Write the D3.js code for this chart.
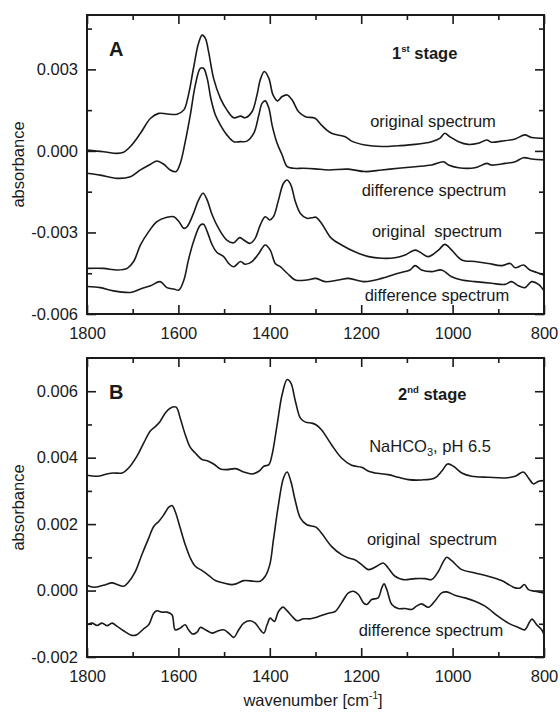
<!DOCTYPE html>
<html>
<head>
<meta charset="utf-8">
<script src="https://cdn.jsdelivr.net/npm/d3@7"></script>
<style>
  body { margin: 0; background: #fff; }
  svg text { font-family: "Liberation Sans", Arial, sans-serif; fill: #1a1a1a; }
</style>
</head>
<body>
<div id="chart"></div>
<script>
// tick values
const wavenumberTicks = [1800, 1600, 1400, 1200, 1000, 800];
const wavenumberMinor = [1700, 1500, 1300, 1100, 900];
const panelATicks = [-6, -3, 0, 3];          // x 1e-3
const panelAMinor = [-4.5, -1.5, 1.5, 4.5];
const panelBTicks = [-2, 0, 2, 4, 6];
const panelBMinor = [-1, 1, 3, 5];

// spectra: [wavenumber cm-1, absorbance x 1e-3]
const stage1Original = [
  [1800, 0.03], [1764, -0.03], [1734, -0.09], [1720, -0.05], [1705, 0.16], [1683, 0.65],
  [1661, 1.20], [1643, 1.38], [1625, 1.36], [1603, 1.35], [1588, 1.51], [1578, 2.06],
  [1567, 3.04], [1556, 3.96], [1548, 4.26], [1541, 4.14], [1534, 3.65], [1523, 2.67],
  [1508, 1.93], [1494, 1.51], [1479, 1.22], [1464, 1.28], [1454, 1.22], [1439, 1.44],
  [1428, 2.06], [1421, 2.61], [1412, 2.92], [1402, 2.67], [1393, 2.06], [1383, 1.84],
  [1373, 2.00], [1362, 2.06], [1351, 1.87], [1337, 1.44], [1322, 1.26], [1301, 1.20],
  [1287, 0.95], [1265, 0.65], [1235, 0.52], [1221, 0.36], [1192, 0.22], [1155, 0.16],
  [1119, 0.19], [1082, 0.24], [1046, 0.34], [1028, 0.46], [1017, 0.65], [1006, 0.52],
  [987, 0.34], [966, 0.24], [944, 0.28], [925, 0.40], [915, 0.32], [893, 0.36],
  [863, 0.44], [842, 0.59], [827, 0.49], [800, 0.46]
];
const stage1Difference = [
  [1800, -0.82], [1771, -0.89], [1734, -1.01], [1705, -0.95], [1683, -0.70], [1661, -0.49],
  [1647, -0.37], [1632, -0.49], [1618, -0.70], [1605, -0.76], [1596, -0.46], [1585, 0.34],
  [1574, 1.32], [1563, 2.42], [1552, 3.04], [1545, 3.04], [1537, 2.67], [1529, 1.93],
  [1519, 1.32], [1508, 0.95], [1494, 0.59], [1479, 0.34], [1464, 0.34], [1450, 0.36],
  [1435, 0.65], [1424, 1.32], [1417, 1.75], [1410, 1.84], [1402, 1.57], [1395, 0.95],
  [1384, 0.28], [1373, -0.15], [1362, -0.58], [1348, -0.64], [1326, -0.64], [1301, -0.66],
  [1272, -0.70], [1228, -0.67], [1192, -0.76], [1155, -0.70], [1119, -0.64], [1082, -0.58],
  [1046, -0.52], [1020, -0.40], [1009, -0.52], [987, -0.62], [951, -0.62], [925, -0.46],
  [915, -0.52], [885, -0.46], [863, -0.40], [845, -0.25], [827, -0.30], [800, -0.33]
];
const stage1Original2 = [
  [1800, -4.32], [1764, -4.32], [1734, -4.38], [1712, -4.32], [1698, -4.07], [1683, -3.46],
  [1665, -2.97], [1647, -2.60], [1625, -2.44], [1610, -2.42], [1599, -2.60], [1588, -2.85],
  [1581, -2.79], [1567, -2.30], [1556, -1.81], [1546, -1.56], [1537, -1.81], [1526, -2.36],
  [1512, -2.85], [1494, -3.28], [1479, -3.38], [1466, -3.19], [1457, -3.28], [1443, -3.40],
  [1432, -3.22], [1421, -2.73], [1410, -2.42], [1400, -2.54], [1392, -2.42], [1381, -1.81],
  [1370, -1.19], [1362, -1.07], [1354, -1.25], [1344, -1.87], [1333, -2.30], [1319, -2.48],
  [1308, -2.46], [1299, -2.44], [1287, -2.66], [1265, -3.22], [1243, -3.46], [1214, -3.71],
  [1184, -3.89], [1155, -3.95], [1126, -3.93], [1104, -3.83], [1082, -3.65], [1071, -3.73],
  [1053, -3.89], [1031, -3.65], [1017, -3.44], [1002, -3.65], [980, -4.01], [951, -4.07],
  [922, -4.14], [893, -4.22], [874, -4.14], [863, -4.30], [845, -4.20], [831, -4.38],
  [816, -4.47], [800, -4.57]
];
const stage1Difference2 = [
  [1800, -4.99], [1771, -5.03], [1742, -5.15], [1702, -5.20], [1683, -5.08], [1661, -4.96],
  [1640, -4.81], [1625, -5.03], [1610, -5.08], [1599, -5.12], [1588, -4.75], [1578, -4.01],
  [1567, -3.34], [1552, -2.73], [1545, -2.70], [1537, -2.97], [1526, -3.46], [1516, -3.73],
  [1501, -3.89], [1490, -4.14], [1479, -4.26], [1464, -4.07], [1454, -4.17], [1439, -4.07],
  [1424, -3.77], [1410, -3.46], [1399, -3.65], [1388, -4.14], [1377, -4.26], [1362, -4.50],
  [1344, -4.75], [1319, -4.75], [1299, -4.69], [1279, -4.81], [1250, -4.75], [1228, -4.69],
  [1192, -4.81], [1155, -4.69], [1119, -4.50], [1093, -4.38], [1082, -4.22], [1068, -4.38],
  [1046, -4.44], [1024, -4.38], [1002, -4.63], [980, -4.75], [951, -4.81], [915, -4.87],
  [885, -4.91], [871, -4.81], [856, -4.96], [842, -5.03], [827, -4.81], [812, -4.91],
  [800, -5.15]
];
const stage2Bicarbonate = [
  [1800, 3.47], [1778, 3.44], [1756, 3.51], [1742, 3.54], [1723, 3.54], [1709, 3.69],
  [1691, 4.04], [1676, 4.44], [1661, 4.81], [1650, 4.94], [1640, 5.09], [1629, 5.34],
  [1618, 5.49], [1605, 5.52], [1596, 5.19], [1585, 4.69], [1574, 4.31], [1563, 4.14],
  [1548, 3.94], [1537, 3.91], [1523, 3.81], [1508, 3.66], [1494, 3.64], [1475, 3.67],
  [1457, 3.57], [1439, 3.51], [1424, 3.59], [1413, 3.74], [1402, 3.79], [1395, 4.09],
  [1384, 4.99], [1373, 5.90], [1362, 6.35], [1354, 6.25], [1344, 5.70], [1333, 5.19],
  [1322, 5.07], [1308, 5.04], [1299, 4.99], [1287, 4.84], [1265, 4.39], [1243, 3.99],
  [1221, 3.77], [1199, 3.71], [1184, 3.59], [1170, 3.54], [1141, 3.49], [1119, 3.41],
  [1097, 3.34], [1068, 3.33], [1039, 3.39], [1024, 3.59], [1011, 3.81], [998, 3.74],
  [980, 3.54], [958, 3.44], [922, 3.41], [885, 3.39], [863, 3.44], [845, 3.57],
  [834, 3.39], [823, 3.21], [812, 3.29], [800, 3.31]
];
const stage2Original = [
  [1800, 0.16], [1785, 0.10], [1764, 0.16], [1745, 0.23], [1734, 0.18], [1720, 0.13],
  [1709, 0.26], [1694, 0.58], [1680, 1.08], [1665, 1.58], [1654, 1.93], [1643, 2.08],
  [1632, 2.28], [1621, 2.51], [1614, 2.56], [1607, 2.38], [1596, 1.88], [1585, 1.38],
  [1574, 0.98], [1563, 0.73], [1548, 0.60], [1534, 0.46], [1519, 0.30], [1501, 0.23],
  [1483, 0.18], [1472, 0.21], [1457, 0.30], [1435, 0.28], [1421, 0.28], [1410, 0.43],
  [1400, 0.78], [1392, 1.53], [1381, 2.59], [1370, 3.39], [1362, 3.57], [1354, 3.29],
  [1344, 2.69], [1333, 2.18], [1319, 1.98], [1299, 1.91], [1287, 1.73], [1265, 1.33],
  [1243, 1.08], [1228, 0.98], [1214, 0.93], [1199, 0.78], [1184, 0.63], [1166, 0.73],
  [1152, 0.83], [1141, 0.68], [1126, 0.43], [1108, 0.33], [1082, 0.36], [1060, 0.36],
  [1046, 0.33], [1031, 0.58], [1020, 0.88], [1013, 1.00], [1002, 0.90], [980, 0.63],
  [951, 0.53], [922, 0.43], [893, 0.30], [863, 0.08], [852, 0.08], [843, 0.18],
  [834, 0.03], [820, -0.02], [800, -0.07]
];
const stage2Difference = [
  [1800, -1.03], [1789, -0.98], [1778, -1.05], [1767, -0.98], [1756, -1.06], [1745, -0.98],
  [1734, -1.08], [1720, -1.21], [1702, -1.35], [1691, -1.33], [1676, -1.15], [1665, -1.03],
  [1654, -0.68], [1647, -0.61], [1636, -0.65], [1625, -0.65], [1614, -0.73], [1607, -1.18],
  [1596, -1.13], [1585, -1.03], [1578, -1.18], [1568, -1.31], [1559, -1.25], [1552, -1.11],
  [1541, -1.18], [1526, -1.28], [1516, -1.23], [1501, -1.18], [1490, -1.28], [1479, -1.41],
  [1468, -1.18], [1457, -0.98], [1443, -0.91], [1432, -0.98], [1421, -1.18], [1413, -1.28],
  [1406, -1.03], [1399, -0.83], [1390, -0.93], [1381, -0.63], [1371, -0.50], [1362, -0.61],
  [1351, -0.78], [1340, -0.91], [1326, -0.85], [1311, -0.85], [1299, -0.81], [1287, -0.75],
  [1272, -0.68], [1257, -0.63], [1243, -0.37], [1228, -0.07], [1217, -0.02], [1206, -0.12],
  [1195, -0.37], [1188, -0.42], [1177, -0.27], [1163, -0.22], [1155, 0.08], [1150, 0.20],
  [1144, 0.03], [1133, -0.42], [1119, -0.54], [1104, -0.54], [1090, -0.57], [1079, -0.47],
  [1068, -0.40], [1053, -0.50], [1039, -0.32], [1024, -0.07], [1013, -0.04], [995, -0.14],
  [973, -0.22], [951, -0.32], [929, -0.47], [900, -0.78], [878, -0.98], [856, -1.11],
  [842, -1.18], [831, -0.93], [826, -0.86], [816, -1.03], [805, -1.18], [800, -1.33]
];

const W = 560, H = 713;
const left = 87, right = 544;

const svg = d3.select("#chart").append("svg")
  .attr("width", W)
  .attr("height", H);

const x = d3.scaleLinear().domain([1800, 800]).range([left, right]);

// plain hyphen for negatives, like the original figure
const locale = d3.formatLocale({ decimal: ".", thousands: ",", grouping: [3], currency: ["", ""], minus: "-" });

const line = y => d3.line()
  .x(d => x(d[0]))
  .y(d => y(d[1]))
  .curve(d3.curveCatmullRom.alpha(0.5));

function drawPanel(p) {
  const y = d3.scaleLinear().domain(p.domain).range([p.bottom, p.top]);
  const g = svg.append("g");
  const fmt = v => locale.format(".3f")(v / 1000);

  // minor ticks first, then major with labels
  g.append("g").attr("transform", `translate(${left},0)`)
    .call(d3.axisLeft(y).tickValues(p.minor).tickSize(-5).tickFormat(""));
  g.append("g").attr("transform", `translate(${right},0)`)
    .call(d3.axisRight(y).tickValues(p.minor).tickSize(-5).tickFormat(""));
  g.append("g").attr("transform", `translate(${left},0)`)
    .call(d3.axisLeft(y).tickValues(p.ticks).tickSize(-9).tickPadding(9).tickFormat(fmt));
  g.append("g").attr("transform", `translate(${right},0)`)
    .call(d3.axisRight(y).tickValues(p.ticks).tickSize(-9).tickFormat(""));

  g.append("g").attr("transform", `translate(0,${p.bottom})`)
    .call(d3.axisBottom(x).tickValues(wavenumberMinor).tickSize(-5).tickFormat(""));
  g.append("g").attr("transform", `translate(0,${p.top})`)
    .call(d3.axisTop(x).tickValues(wavenumberMinor).tickSize(-5).tickFormat(""));
  g.append("g").attr("transform", `translate(0,${p.bottom})`)
    .call(d3.axisBottom(x).tickValues(wavenumberTicks).tickSize(-9).tickPadding(13).tickFormat(d3.format("d")));
  g.append("g").attr("transform", `translate(0,${p.top})`)
    .call(d3.axisTop(x).tickValues(wavenumberTicks).tickSize(-9).tickFormat(""));

  g.selectAll(".domain").remove();
  g.selectAll(".tick line").attr("stroke", "#1a1a1a").attr("stroke-width", 1.6);
  g.selectAll(".tick text")
    .attr("font-family", "Liberation Sans, Arial, sans-serif")
    .attr("font-size", 16.5)
    .attr("fill", "#1a1a1a");

  // spectra
  p.series.forEach(s => {
    g.append("path")
      .datum(s)
      .attr("fill", "none")
      .attr("stroke", "#1a1a1a")
      .attr("stroke-width", 1.6)
      .attr("stroke-linejoin", "round")
      .attr("d", line(y));
  });

  // frame
  g.append("rect")
    .attr("x", left).attr("y", p.top)
    .attr("width", right - left).attr("height", p.bottom - p.top)
    .attr("fill", "none").attr("stroke", "#1a1a1a").attr("stroke-width", 2);

  // y title
  g.append("text")
    .attr("transform", `translate(24,${(p.top + p.bottom) / 2}) rotate(-90)`)
    .attr("text-anchor", "middle")
    .attr("font-size", 16.5)
    .text("absorbance");

  // panel letter
  g.append("text")
    .attr("x", 109).attr("y", p.top + 41)
    .attr("font-size", 20).attr("font-weight", "bold")
    .text(p.letter);

  // stage label
  const st = g.append("text")
    .attr("x", p.stageX).attr("y", p.top + p.stageDy)
    .attr("font-size", 16.5).attr("font-weight", "bold");
  st.append("tspan").text(p.stage[0]);
  st.append("tspan").attr("font-size", 9.5).attr("dy", -7).text(p.stage[1]);
  st.append("tspan").attr("dy", 7).text(" stage");

  // curve labels
  p.labels.forEach(l => {
    const t = g.append("text")
      .attr("x", l.x).attr("y", l.y)
      .attr("text-anchor", "middle")
      .attr("font-size", 16.5)
      .style("white-space", "pre");
    if (l.sub) {
      t.append("tspan").text(l.text[0]);
      t.append("tspan").attr("font-size", 11).attr("dy", 4).text(l.sub);
      t.append("tspan").attr("dy", -4).text(l.text[1]);
    } else {
      t.text(l.text);
    }
  });
}

drawPanel({
  top: 15, bottom: 314, domain: [-6, 5],
  ticks: panelATicks, minor: panelAMinor,
  series: [stage1Original, stage1Difference, stage1Original2, stage1Difference2],
  letter: "A", stage: ["1", "st"], stageX: 392, stageDy: 44,
  labels: [
    { x: 433, y: 127, text: "original spectrum" },
    { x: 434, y: 196, text: "difference spectrum" },
    { x: 437, y: 237, text: "original  spectrum" },
    { x: 437, y: 301, text: "difference spectrum" }
  ]
});

drawPanel({
  top: 358, bottom: 657, domain: [-2, 7],
  ticks: panelBTicks, minor: panelBMinor,
  series: [stage2Bicarbonate, stage2Original, stage2Difference],
  letter: "B", stage: ["2", "nd"], stageX: 398, stageDy: 42,
  labels: [
    { x: 430, y: 452, text: ["NaHCO", ", pH 6.5"], sub: "3" },
    { x: 432, y: 545, text: "original  spectrum" },
    { x: 431, y: 636, text: "difference spectrum" }
  ]
});

// x title
const xt = svg.append("text")
  .attr("x", 313).attr("y", 706)
  .attr("text-anchor", "middle")
  .attr("font-size", 16.5);
xt.append("tspan").text("wavenumber [cm");
xt.append("tspan").attr("font-size", 10).attr("dy", -7).text("-1");
xt.append("tspan").attr("dy", 7).text("]");
</script>
</body>
</html>
